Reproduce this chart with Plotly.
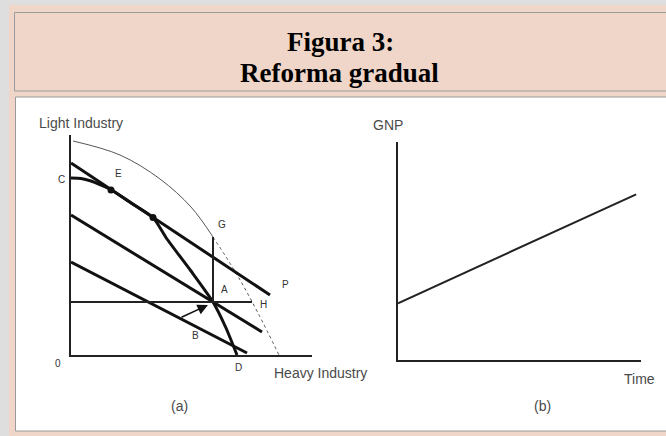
import plotly.graph_objects as go

W, H = 666, 436

def px(x):
    return x / W

def py(y):
    return 1 - y / H

# ---------------- data: panel (a) ----------------
ppf_x = [0.2, 4.9, 8.9, 12.0, 14.2]
ppf_y = [21.4, 20.0, 17.6, 14.8, 11.8]
ppf_low_x = [14.2, 16.5, 18.7, 20.8]
ppf_low_y = [11.8, 8.2, 4.2, 0.0]

line1_x = [0.0, 19.9]
line1_y = [19.2, 6.0]
line2_x = [0.0, 19.1]
line2_y = [14.0, 2.3]
line3_x = [0.0, 17.6]
line3_y = [9.3, 0.2]

curve_x = [0.0, 1.0, 2.0, 3.0, 3.9, 6.0, 8.2, 9.6, 12.0, 14.2, 15.5, 16.6]
curve_y = [17.7, 17.65, 17.4, 17.0, 16.6, 15.2, 13.75, 11.6, 8.4, 5.3, 2.7, 0.0]

hline_x = [0.0, 18.1]
hline_y = [5.3, 5.3]
vline_x = [14.2, 14.2]
vline_y = [5.3, 11.8]

dots_x = [4.0, 8.2]
dots_y = [16.5, 13.75]

pt_labels = ["C", "E", "G", "A", "H", "P", "B", "D", "0"]
pt_x = [-1.0, 4.7, 15.1, 15.3, 19.2, 21.4, 12.4, 16.7, -1.3]
pt_y = [17.6, 18.1, 13.1, 6.6, 5.1, 7.1, 2.0, -1.2, -0.8]

arrow_from = (10.9, 3.7)
arrow_to = (13.7, 5.0)

# ---------------- data: panel (b) ----------------
gnp_time = [0.0, 9.8]
gnp_value = [2.6, 7.6]

# axis geometry for panel (a)
AX0, AX1 = 71, 312      # pixel x of axis domain
AY0, AY1 = 135, 355     # pixel y of axis domain (top, bottom)
XR = [0, 24.1]
YR = [0, 22]

fig = go.Figure()

blk = "#111111"
fig.add_trace(go.Scatter(x=ppf_x, y=ppf_y, mode="lines", line=dict(color="#555", width=1, shape="spline"),
                         xaxis="x", yaxis="y", hoverinfo="skip"))
fig.add_trace(go.Scatter(x=ppf_low_x, y=ppf_low_y, mode="lines",
                         line=dict(color="#555", width=1, dash="dot", shape="spline"),
                         xaxis="x", yaxis="y", hoverinfo="skip"))
for xs, ys in [(line1_x, line1_y), (line2_x, line2_y), (line3_x, line3_y)]:
    fig.add_trace(go.Scatter(x=xs, y=ys, mode="lines", line=dict(color=blk, width=3),
                             xaxis="x", yaxis="y", hoverinfo="skip"))
fig.add_trace(go.Scatter(x=curve_x, y=curve_y, mode="lines", line=dict(color=blk, width=3, shape="spline", smoothing=0.6),
                         xaxis="x", yaxis="y", hoverinfo="skip"))
fig.add_trace(go.Scatter(x=hline_x, y=hline_y, mode="lines", line=dict(color="#222", width=2),
                         xaxis="x", yaxis="y", hoverinfo="skip"))
fig.add_trace(go.Scatter(x=vline_x, y=vline_y, mode="lines", line=dict(color="#222", width=2),
                         xaxis="x", yaxis="y", hoverinfo="skip"))
fig.add_trace(go.Scatter(x=dots_x, y=dots_y, mode="markers", marker=dict(color=blk, size=7),
                         xaxis="x", yaxis="y", hoverinfo="skip", cliponaxis=False))
fig.add_trace(go.Scatter(x=gnp_time, y=gnp_value, mode="lines", line=dict(color="#222", width=2),
                         xaxis="x2", yaxis="y2", hoverinfo="skip"))

shapes = [
    dict(type="rect", xref="paper", yref="paper", x0=px(9), x1=px(680), y0=py(440), y1=py(5),
         fillcolor="#f0d6c8", line=dict(width=0), layer="below"),
    dict(type="rect", xref="paper", yref="paper", x0=px(14.5), x1=px(680), y0=py(91), y1=py(12.5),
         fillcolor="#f0d6c8", line=dict(color="#9a9a9a", width=1), layer="below"),
    dict(type="rect", xref="paper", yref="paper", x0=px(15.5), x1=px(680), y0=py(431), y1=py(97),
         fillcolor="#ffffff", line=dict(color="#9a9a9a", width=1), layer="below"),
]

ann = []
title_font = dict(family="Liberation Serif, Times New Roman, serif", size=27, color="#000")
ann.append(dict(text="<b>Figura 3:</b>", x=px(340), y=py(42), xref="paper", yref="paper", showarrow=False,
                xanchor="center", yanchor="middle", font=title_font))
ann.append(dict(text="<b>Reforma gradual</b>", x=px(339), y=py(73), xref="paper", yref="paper", showarrow=False,
                xanchor="center", yanchor="middle", font=title_font))

lab_font = dict(family="Liberation Sans, Arial, sans-serif", size=14, color="#4a4a4a")
for t, x, y in [("Light Industry", 81, 123), ("Heavy Industry", 320, 373), ("(a)", 179, 406),
                ("GNP", 388, 125), ("Time", 639, 379), ("(b)", 542, 406)]:
    ann.append(dict(text=t, x=px(x), y=py(y), xref="paper", yref="paper", showarrow=False,
                    xanchor="center", yanchor="middle", font=lab_font))

# point labels: placed in paper space from their data positions (some lie outside the axis range)
small_font = dict(family="Liberation Sans, Arial, sans-serif", size=10, color="#333")
for t, x, y in zip(pt_labels, pt_x, pt_y):
    pxv = AX0 + (x - XR[0]) / (XR[1] - XR[0]) * (AX1 - AX0)
    pyv = AY1 - (y - YR[0]) / (YR[1] - YR[0]) * (AY1 - AY0)
    ann.append(dict(text=t, x=px(pxv), y=py(pyv), xref="paper", yref="paper", showarrow=False,
                    xanchor="center", yanchor="middle", font=small_font))

ann.append(dict(text="", x=arrow_to[0], y=arrow_to[1], ax=arrow_from[0], ay=arrow_from[1],
                xref="x", yref="y", axref="x", ayref="y", showarrow=True, arrowhead=2,
                arrowsize=1.4, arrowwidth=1.5, arrowcolor=blk))

axis_common = dict(showgrid=False, zeroline=False, showticklabels=False, ticks="",
                   showline=True, linecolor="#222", linewidth=2, fixedrange=True)

fig.update_layout(
    width=W, height=H, margin=dict(l=0, r=0, t=0, b=0),
    paper_bgcolor="#dedede", plot_bgcolor="rgba(0,0,0,0)",
    showlegend=False,
    shapes=shapes, annotations=ann,
    xaxis=dict(domain=[px(AX0), px(AX1)], range=XR, anchor="y", **axis_common),
    yaxis=dict(domain=[py(AY1), py(AY0)], range=YR, anchor="x", **axis_common),
    xaxis2=dict(domain=[px(398), px(641)], range=[0, 10], anchor="y2", **axis_common),
    yaxis2=dict(domain=[py(360), py(142)], range=[0, 10], anchor="x2", **axis_common),
)

fig.write_html("out.html", config={"displayModeBar": False},
               post_script="document.body.style.margin='0px';document.body.style.overflow='hidden';")
